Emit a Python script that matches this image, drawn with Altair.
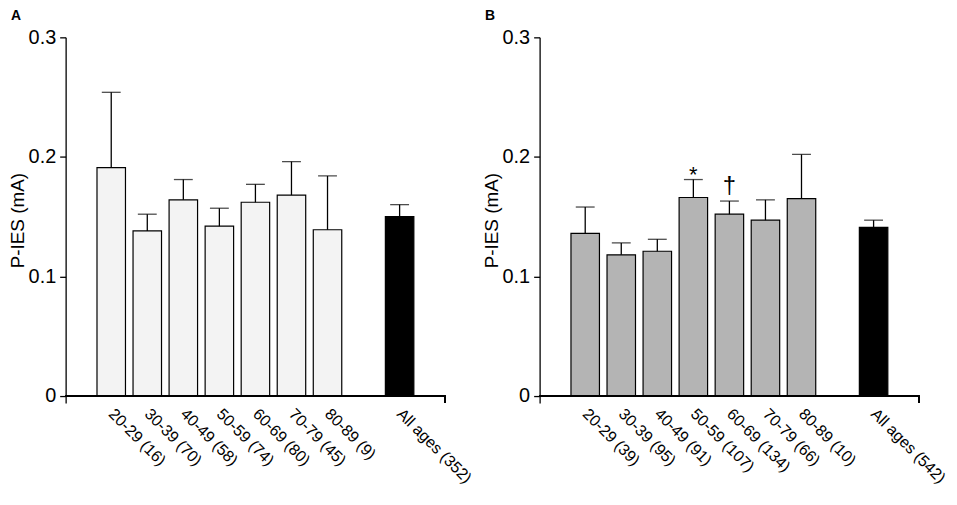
import altair as alt
import pandas as pd

CATS_A = ["20-29 (16)", "30-39 (70)", "40-49 (58)", "50-59 (74)", "60-69 (80)",
          "70-79 (45)", "80-89 (9)", "All ages (352)"]
MEAN_A = [0.191, 0.138, 0.164, 0.142, 0.162, 0.168, 0.139, 0.150]
ERR_A = [0.063, 0.014, 0.017, 0.015, 0.015, 0.028, 0.045, 0.010]

CATS_B = ["20-29 (39)", "30-39 (95)", "40-49 (91)", "50-59 (107)", "60-69 (134)",
          "70-79 (66)", "80-89 (10)", "All ages (542)"]
MEAN_B = [0.136, 0.118, 0.121, 0.166, 0.152, 0.147, 0.165, 0.141]
ERR_B = [0.022, 0.010, 0.010, 0.015, 0.011, 0.017, 0.037, 0.006]
MARK_B = ["", "", "", "*", "\u2020", "", "", ""]
MARK_A = [""] * 8

Y_TICKS = [0, 0.1, 0.2, 0.3]
Y_MIN = -0.006
Y_MAX = 0.3
GAP = "gap"
W = 382
H = 368
FONT = "Liberation Sans"


def panel(cats, means, errs, marks, fill, letter):
    df = pd.DataFrame({"cat": cats, "mean": means, "err": errs, "mark": marks})
    df["top"] = df["mean"] + df["err"]
    df["zero"] = 0.0
    df["isall"] = df["cat"].str.startswith("All")
    domain = cats[:7] + [GAP] + cats[7:]
    x = alt.X(
        "cat:N",
        sort=domain,
        scale=alt.Scale(domain=domain, paddingInner=0.21, paddingOuter=0.87),
        axis=alt.Axis(
            title=None, labelAngle=45, labelAlign="left", labelBaseline="middle",
            labelFontSize=16, labelFont=FONT, labelColor="black", domain=False,
            ticks=False, tickSize=0, labelPadding=8,
            labelExpr=f"datum.label == '{GAP}' ? '' : datum.label",
        ),
    )
    ysc = alt.Scale(domain=[Y_MIN, Y_MAX], nice=False, zero=False)
    y = alt.Y(
        "mean:Q", scale=ysc,
        axis=alt.Axis(
            title="P-IES (mA)", values=Y_TICKS, format=".1~f", grid=False,
            labelFontSize=20, labelFont=FONT, labelColor="black",
            titleFontSize=19, titleFont=FONT, titleFontWeight="normal",
            titleColor="black", titlePadding=1,
            domainColor="black", domainWidth=1.3, tickColor="black",
            tickWidth=1.3, tickSize=6, labelPadding=4,
        ),
    )
    base = alt.Chart(df)
    bars = base.mark_bar(stroke="black", strokeWidth=1.2).encode(
        x=x, y=y, y2="zero:Q",
        fill=alt.condition("datum.isall", alt.value("black"), alt.value(fill)),
    )
    err = base.mark_rule(color="black", strokeWidth=1.3).encode(
        x=x, y="mean:Q", y2="top:Q")
    cap = base.mark_tick(orient="horizontal", size=19, thickness=1.3,
                         color="black").encode(x=x, y="top:Q")
    axis_line = base.mark_rule(color="black", strokeWidth=1.3).encode(
        x=alt.value(0), x2=alt.value(W), y=alt.datum(0))
    end_tick = base.mark_rule(color="black", strokeWidth=1.3).encode(
        x=alt.value(W), y=alt.datum(0), y2=alt.datum(Y_MIN))
    star = base.transform_filter("datum.mark == '*'").mark_text(
        fontSize=22, font=FONT, baseline="alphabetic", dy=2, color="black"
    ).encode(x=x, y="top:Q", text="mark:N")
    dag = base.transform_filter("datum.mark == '\u2020'").mark_text(
        fontSize=24, font=FONT, baseline="alphabetic", dy=-8, color="black"
    ).encode(x=x, y="top:Q", text="mark:N")
    layers = [bars, err, cap, axis_line, end_tick]
    if any(m == "*" for m in marks):
        layers.append(star)
    if any(m == "\u2020" for m in marks):
        layers.append(dag)
    return alt.layer(*layers).properties(
        width=W, height=H,
        title=alt.TitleParams(letter, anchor="start", frame="group", fontSize=14,
                              fontWeight="bold", font=FONT, color="black",
                              dx=-55, offset=4),
    )


a = panel(CATS_A, MEAN_A, ERR_A, MARK_A, "#f3f3f3", "A")
b = panel(CATS_B, MEAN_B, ERR_B, MARK_B, "#b4b4b4", "B")

chart = alt.hconcat(a, b, spacing=7).configure(
    font=FONT, padding=0, background="white").configure_view(stroke=None)

chart.save("out.html", embed_options={"renderer": "svg", "actions": False})
